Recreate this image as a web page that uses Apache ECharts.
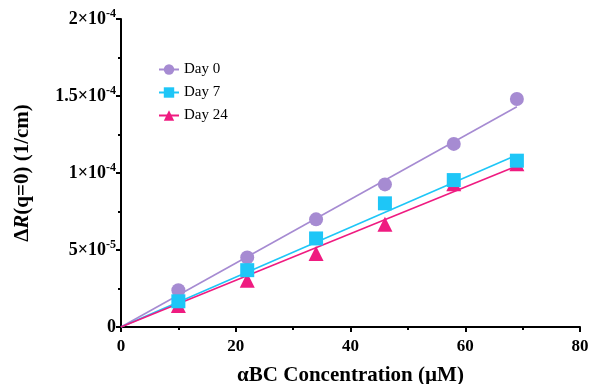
<!DOCTYPE html>
<html><head><meta charset="utf-8">
<script src="https://cdn.jsdelivr.net/npm/echarts@6/dist/echarts.min.js"></script>
<style>html,body{margin:0;padding:0;background:#fff}#c{width:592px;height:384px}</style>
</head><body><div id="c"></div>
<script>
const concentrations = [10, 22, 34, 46, 58, 69];
const day0 = [23.9e-6, 45.2e-6, 69.9e-6, 92.6e-6, 118.9e-6, 148.1e-6];
const day7 = [16.7e-6, 36.9e-6, 57.5e-6, 80.3e-6, 95.4e-6, 108.0e-6];
const day24 = [14.0e-6, 30.4e-6, 47.7e-6, 66.8e-6, 93.0e-6, 106.0e-6];
const fitX = [0, 69];
const fit0 = [0, 143e-6];
const fit7 = [0, 111.7e-6];
const fit24 = [0, 104.6e-6];
const seriesNames = ['Day 0', 'Day 7', 'Day 24'];
const xTickLabels = ['0', '20', '40', '60', '80'];
const yTickLabels = ['0', '5×10{s|-5}', '1×10{s|-4}', '1.5×10{s|-4}', '2×10{s|-4}'];

const colors = ['#a68bd2', '#1ec6f7', '#ef1b80'];
const symbols = ['circle', 'rect', 'triangle'];
const sizes = [14, 14, 15];
const scatterZ = [3, 5, 4];
const pts = [day0, day7, day24];
const fits = [fit0, fit7, fit24];
const font = '"Liberation Serif", "Times New Roman", serif';

const series = [];
for (let i = 0; i < 3; i++) {
  series.push({
    name: seriesNames[i], type: 'line',
    data: fitX.map((x, j) => [x, fits[i][j]]),
    symbol: symbols[i], symbolSize: 12, showSymbol: false,
    lineStyle: {color: colors[i], width: 1.6},
    itemStyle: {color: colors[i]}, silent: true, z: 2
  });
}
for (let i = 0; i < 3; i++) {
  series.push({
    name: seriesNames[i], type: 'scatter',
    data: concentrations.map((x, j) => [x, pts[i][j]]),
    symbol: symbols[i], symbolSize: sizes[i],
    itemStyle: {color: colors[i], opacity: 1}, z: scatterZ[i]
  });
}

const chart = echarts.init(document.getElementById('c'), null, {renderer: 'canvas'});
chart.setOption({
  animation: false,
  grid: {left: 121, right: 12, top: 19, bottom: 57, containLabel: false, outerBoundsMode: 'none'},
  legend: {
    data: seriesNames, orient: 'vertical', left: 153, top: 57,
    itemWidth: 20, itemHeight: 13, itemGap: 8,
    textStyle: {fontFamily: font, fontSize: 15, color: '#000'}
  },
  xAxis: {
    type: 'value', min: 0, max: 80, interval: 20,
    axisLine: {lineStyle: {color: '#000', width: 2}},
    axisTick: {length: 5, lineStyle: {width: 2, color: '#000'}},
    minorTick: {show: true, splitNumber: 2, length: 3, lineStyle: {width: 2, color: '#000'}},
    splitLine: {show: false},
    axisLabel: {fontFamily: font, fontWeight: 'bold', fontSize: 17, color: '#000', margin: 11,
      formatter: v => xTickLabels[Math.round(v / 20)]},
    name: 'αBC Concentration (µM)', nameLocation: 'middle', nameGap: 38,
    nameTextStyle: {fontFamily: font, fontWeight: 'bold', fontSize: 21, color: '#000'}
  },
  yAxis: {
    type: 'value', min: 0, max: 2e-4, interval: 5e-5,
    axisLine: {show: true, lineStyle: {color: '#000', width: 2}},
    axisTick: {show: true, length: 5, lineStyle: {width: 2, color: '#000'}},
    minorTick: {show: true, splitNumber: 2, length: 3, lineStyle: {width: 2, color: '#000'}},
    splitLine: {show: false},
    axisLabel: {fontFamily: font, fontWeight: 'bold', fontSize: 18, color: '#000', margin: 5,
      formatter: v => yTickLabels[Math.round(v / 5e-5)],
      rich: {s: {fontFamily: font, fontWeight: 'bold', fontSize: 12, color: '#000', verticalAlign: 'bottom', padding: [0, 0, 11, 0]}}
    },
    name: '{a|Δ}{i|R}{a|(q=0) (1/cm)}', nameLocation: 'middle', nameGap: 88, nameRotate: 90,
    nameTextStyle: {fontFamily: font, fontWeight: 'bold', fontSize: 21, color: '#000',
      rich: {
        a: {fontFamily: font, fontWeight: 'bold', fontSize: 21, color: '#000'},
        i: {fontFamily: font, fontWeight: 'bold', fontStyle: 'italic', fontSize: 21, color: '#000'}
      }}
  },
  series: series
});
</script></body></html>
